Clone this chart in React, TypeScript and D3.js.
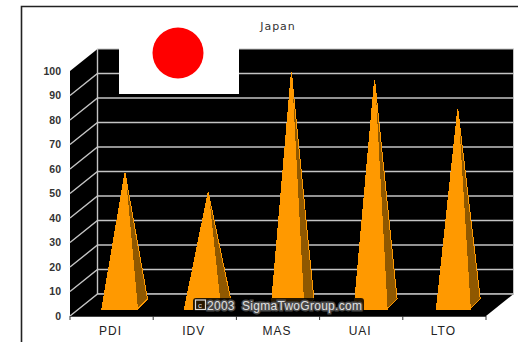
import React from "react";
import * as d3 from "d3";

const categories = ["PDI", "IDV", "MAS", "UAI", "LTO"];
const scores = [54, 46, 95, 92, 80];
const yTicks = [0, 10, 20, 30, 40, 50, 60, 70, 80, 90, 100];
const chartTitle = "Japan";
const credit = "2003  SigmaTwoGroup.com";

const WIDTH = 518;
const HEIGHT = 342;
const DEPTH_X = 27.5;
const DEPTH_Y = 22;
const ORANGE = "#ff9900";
const SHADE = "#8f5800";
const GRID = "#c4c4c4";
const SANS = "'Liberation Sans', Arial, sans-serif";
const NARROW = "'Liberation Sans Narrow', 'Liberation Sans', Arial, sans-serif";

const x = d3.scaleBand<string>().domain(categories).range([70, 486]);
const yFront = d3.scaleLinear().domain([0, 100]).range([316, 71]);
const yBack = (v: number) => yFront(v) - DEPTH_Y;
// Pyramids stand halfway into the floor, so their apex is read at mid depth.
const yMid = (v: number) => yFront(v) - DEPTH_Y / 2;

const line = d3.line();
const closed = (pts: [number, number][]) => (line(pts) ?? "") + "Z";

function Pyramid({ category, value }: { category: string; value: number }) {
  const left = x(category) ?? 0;
  const baseY = yFront(0) - 7;
  const apex: [number, number] = [left + 55, yMid(value)];
  // Taller pyramids get a slightly narrower footprint.
  const frontL: [number, number] = [left + 28 + 0.07 * value, baseY];
  const frontR: [number, number] = [left + 67.5, baseY];
  const backR: [number, number] = [left + 77.5, baseY - 10];
  return (
    <g shapeRendering="crispEdges">
      <path d={closed([frontR, backR, apex])} fill={SHADE} stroke={ORANGE} strokeWidth={1} />
      <path d={closed([frontL, frontR, apex])} fill={ORANGE} stroke={ORANGE} strokeWidth={1} />
    </g>
  );
}

export default function App() {
  const backLeft = 70 + DEPTH_X;
  const backRight = 486 + DEPTH_X;
  return (
    <svg
      width={WIDTH}
      height={HEIGHT}
      viewBox={`0 0 ${WIDTH} ${HEIGHT}`}
      style={{ position: "absolute", left: 0, top: 0, background: "#fff" }}
    >
      {/* outer frame, open on the right and at the bottom */}
      <path d={`M21.5,${HEIGHT}V6.5H${WIDTH}`} fill="none" stroke="#222" strokeWidth={1.6} />

      <text x={278} y={30} textAnchor="middle" fontFamily="'DejaVu Sans', sans-serif" fontSize={11} letterSpacing={1} fill="#333">
        {chartTitle}
      </text>

      {/* walls and floor */}
      <rect x={backLeft} y={yBack(100)} width={backRight - backLeft} height={yBack(0) - yBack(100)} fill="#000" stroke={GRID} />
      <path
        d={closed([
          [70, yFront(100)],
          [backLeft, yBack(100)],
          [backLeft, yBack(0)],
          [70, yFront(0)],
        ])}
        fill="#000"
      />
      <path
        d={closed([
          [70, yFront(0)],
          [backLeft, yBack(0)],
          [backRight, yBack(0)],
          [486, yFront(0)],
        ])}
        fill="#000"
      />

      {/* gridlines wrap from the left wall onto the back wall */}
      {yTicks.map((t) => (
        <path
          key={t}
          d={`M70,${yFront(t)}L${backLeft},${yBack(t)}H${backRight}`}
          fill="none"
          stroke={t === 100 ? "none" : GRID}
          strokeWidth={1.4}
        />
      ))}
      <line x1={backLeft} x2={backLeft} y1={yBack(100)} y2={yBack(0)} stroke={GRID} strokeWidth={1.4} />

      {/* flag */}
      <rect x={119} y={8} width={120} height={86} fill="#fff" />
      <circle cx={178} cy={53} r={25.5} fill="#ff0000" />

      {scores.map((v, i) => (
        <Pyramid key={categories[i]} category={categories[i]} value={v} />
      ))}

      {/* axes */}
      <line x1={70} x2={486} y1={yFront(0) + 0.5} y2={yFront(0) + 0.5} stroke="#444" />
      {[...categories.map((c) => x(c) ?? 0), 486].map((px) => (
        <line key={px} x1={px} x2={px} y1={yFront(0)} y2={yFront(0) + 4} stroke="#333" />
      ))}
      {yTicks.map((t) => (
        <text
          key={t}
          x={61}
          y={yFront(t) + 3.5}
          textAnchor="end"
          fontFamily={NARROW}
          fontWeight={700}
          fontSize={10.5}
          fill="#333"
        >
          {t}
        </text>
      ))}
      {categories.map((c) => (
        <text
          key={c}
          x={(x(c) ?? 0) + (x.bandwidth() / 2 - 1)}
          y={335}
          textAnchor="middle"
          fontFamily={SANS}
          fontSize={12}
          letterSpacing={1}
          fill="#222"
        >
          {c}
        </text>
      ))}

      {/* credit line with its dark halo */}
      <rect x={193} y={298} width={171} height={15} rx={3} fill="#000" opacity={0.85} />
      <rect x={195.5} y={300} width={10} height={9.5} fill="none" stroke="#ddd" strokeWidth={1.2} />
      <text x={198} y={308} fontFamily={SANS} fontSize={8} fill="#ddd">
        c
      </text>
      <text
        x={207}
        y={309.5}
        fontFamily={SANS}
        fontSize={12}
        letterSpacing={0.28}
        fill="#e0e0e0"
        stroke="#4a4a4a"
        strokeWidth={3}
        paintOrder="stroke"
        xmlSpace="preserve"
      >
        {credit}
      </text>
    </svg>
  );
}
